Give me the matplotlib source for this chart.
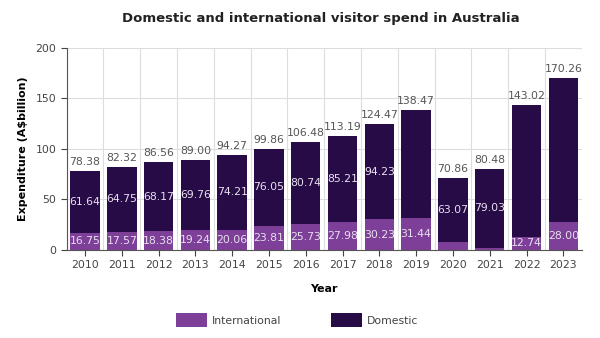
import matplotlib
matplotlib.use("Agg")
import matplotlib.pyplot as plt
import numpy as np

# 数据
years = ['2010', '2011', '2012', '2013', '2014', '2015', '2016',
         '2017', '2018', '2019', '2020', '2021', '2022', '2023']
international = [16.75, 17.57, 18.38, 19.24, 20.06, 23.81, 25.73,
                 27.98, 30.23, 31.44, 7.79, 1.45, 12.74, 28.00]
domestic = [61.64, 64.75, 68.17, 69.76, 74.21, 76.05, 80.74,
            85.21, 94.23, 107.03, 63.07, 79.03, 130.28, 142.26]
totals = [78.38, 82.32, 86.56, 89.00, 94.27, 99.86, 106.48,
          113.19, 124.47, 138.47, 70.86, 80.48, 143.02, 170.26]
# 原图中没显示的标签
no_dom_label = ['2019', '2022', '2023']
no_int_label = ['2020', '2021']

c_int = '#7d3f98'
c_dom = '#260b47'

plt.rcParams['font.family'] = ['DejaVu Sans']

fig = plt.figure(figsize=(6, 3.38), dpi=100)
ax = fig.add_axes([0.111, 0.261, 0.8585, 0.597])

x = np.arange(len(years))
w = 0.8
ax.bar(x, international, w, color=c_int, label='International', zorder=2)
ax.bar(x, domestic, w, bottom=international, color=c_dom, label='Domestic', zorder=2)

for i, y in enumerate(years):
    if y not in no_int_label:
        ax.text(x[i], international[i] / 2, f'{international[i]:.2f}', ha='center', va='center',
                fontsize=7.8, color='#e8e0ee', zorder=3)
    if y not in no_dom_label:
        ax.text(x[i], international[i] + domestic[i] / 2, f'{domestic[i]:.2f}', ha='center',
                va='center', fontsize=7.8, color='#e8e0ee', zorder=3)
    ax.text(x[i], international[i] + domestic[i] + 4, f'{totals[i]:.2f}', ha='center', va='bottom',
            fontsize=7.8, color='#555555', zorder=3)

ax.set_xlim(-0.5, len(years) - 0.5)
ax.set_ylim(0, 200)
ax.set_yticks([0, 50, 100, 150, 200])
ax.set_xticks(x)
ax.set_xticklabels(years)
ax.set_xticks(np.arange(len(years) + 1) - 0.5, minor=True)
ax.grid(axis='y', color='#dddddd', linewidth=0.8, zorder=0)
ax.grid(axis='x', which='minor', color='#dddddd', linewidth=0.8, zorder=0)
ax.tick_params(axis='x', which='minor', length=0)
ax.tick_params(axis='both', labelsize=7.8, colors='#444444', length=4)
for s in ['top', 'right']:
    ax.spines[s].set_visible(False)
for s in ['left', 'bottom']:
    ax.spines[s].set_color('#555555')

ax.set_xlabel('Year', fontsize=8, fontweight='bold', labelpad=10)
ax.set_ylabel('Expenditure (A$billion)', fontsize=8, fontweight='bold', labelpad=5)
fig.suptitle('Domestic and international visitor spend in Australia', fontsize=9.5,
             fontweight='bold', x=0.535, y=0.965, color='#222222')

fig.legend(loc='center', bbox_to_anchor=(0.495, 0.052), ncol=2, frameon=False,
           fontsize=7.8, handlelength=2.9, handleheight=1.6, columnspacing=4.6,
           handletextpad=0.4, labelcolor='#444444')

fig.savefig('out.png', dpi=100)
